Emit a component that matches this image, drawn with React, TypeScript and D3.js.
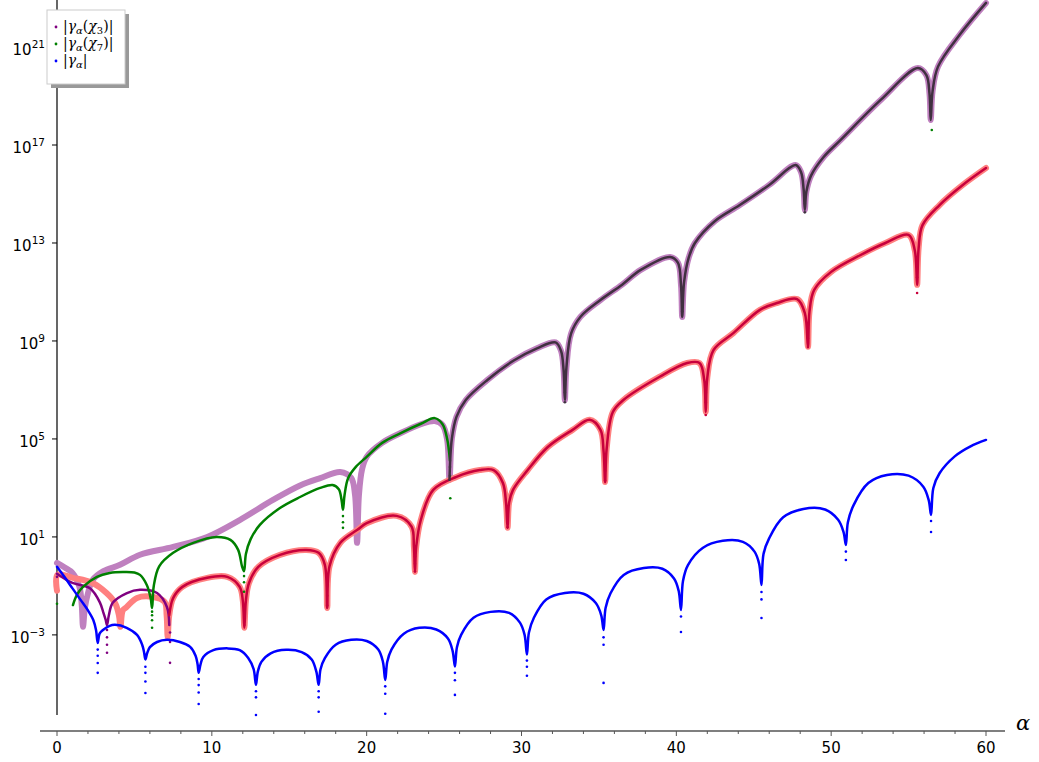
import React from 'react';
import * as d3 from 'd3';

const W = 1039;
const H = 762;

// [alpha, log10 |value|]
const plumCurve: [number, number][] = [
  [0, -0.06], [0.5, -0.25], [1.0, -0.47], [1.45, -1.04], [1.6, -1.8], [1.68, -2.67], [1.8, -1.9],
  [2.0, -1.3], [2.3, -0.76], [3.0, -0.4], [4.07, -0.14], [5.36, 0.27], [7.5, 0.59], [9.7, 1.0],
  [11.8, 1.69], [13.95, 2.51], [15.7, 3.1], [17.0, 3.4], [18.3, 3.65], [19.0, 3.41], [19.25, 2.71],
  [19.38, 0.76], [19.5, 2.7], [19.7, 3.75], [20.0, 4.27], [21.0, 4.84], [22.2, 5.24], [23.5, 5.6],
  [24.4, 5.73], [24.9, 5.57], [25.2, 4.96], [25.35, 3.33], [25.5, 5.0], [25.8, 5.9], [26.4, 6.59],
  [27.8, 7.41], [29.5, 8.2], [31.0, 8.7], [32.2, 8.94], [32.55, 8.6], [32.72, 7.8], [32.8, 6.59],
  [32.9, 7.9], [33.2, 9.3], [33.8, 9.98], [35.1, 10.67], [36.5, 11.3], [37.7, 11.9], [39.6, 12.43],
  [40.1, 12.2], [40.3, 11.3], [40.38, 9.98], [40.5, 11.4], [40.8, 12.4], [41.2, 13.0], [42.5, 13.9],
  [44.1, 14.55], [46.0, 15.37], [47.7, 16.18], [48.05, 15.9], [48.22, 15.2], [48.3, 14.35],
  [48.4, 15.1], [48.7, 15.75], [49.5, 16.5], [50.6, 17.2], [53.2, 18.84], [55.6, 20.14], [56.15, 19.85],
  [56.35, 19.1], [56.43, 18.02], [56.55, 19.2], [56.9, 20.2], [58.3, 21.5], [60, 22.8],
];

const salmonCurve: [number, number][] = [
  [0, -1.2], [0.03, -0.55], [1.03, -0.67], [2.3, -0.88], [3.2, -1.29], [3.75, -1.7], [4.0, -2.2],
  [4.1, -2.67], [4.25, -2.0], [4.5, -1.86], [5.17, -1.49], [6.2, -1.45], [6.95, -1.65], [7.08, -2.2],
  [7.15, -3.1], [7.25, -2.2], [7.5, -1.5], [8.1, -1.04], [9.7, -0.67], [11.0, -0.63], [11.8, -1.04],
  [12.0, -1.6], [12.1, -2.71], [12.2, -1.6], [12.4, -0.88], [13.0, -0.22], [14.4, 0.27], [16.1, 0.47],
  [16.9, 0.35], [17.3, -0.14], [17.45, -1.9], [17.6, -0.2], [18.3, 0.76], [19.4, 1.29], [20.0, 1.56],
  [21.94, 1.86], [22.9, 1.42], [23.05, 0.6], [23.12, -0.43], [23.2, 0.6], [23.5, 1.7], [24.3, 2.92],
  [25.8, 3.45], [27.3, 3.73], [28.2, 3.73], [28.8, 3.2], [29.0, 2.4], [29.1, 1.37], [29.2, 2.4],
  [29.45, 2.92], [30.4, 3.73], [31.7, 4.67], [33.3, 5.37], [34.4, 5.78], [35.1, 5.37], [35.3, 4.5],
  [35.4, 3.24], [35.5, 4.6], [35.9, 6.1], [36.6, 6.6], [38.9, 7.53], [40.7, 8.1], [41.5, 8.1],
  [41.8, 7.41], [41.9, 6.1], [42.0, 7.5], [42.4, 8.63], [43.7, 9.33], [45.4, 10.27], [46.5, 10.55],
  [47.8, 10.71], [48.3, 10.14], [48.5, 8.76], [48.6, 10.2], [48.9, 11.08], [50.0, 11.82],
  [51.9, 12.51], [53.5, 13.0], [55.0, 13.33], [55.4, 12.7], [55.55, 11.29], [55.65, 12.8],
  [55.9, 13.73], [57.0, 14.55], [58.5, 15.37], [60, 16.06],
];

// |gamma_alpha(chi_3)| before it joins the salmon curve
const chi3Curve: [number, number][] = [
  [0, -0.5], [1.0, -0.88], [2.13, -1.1], [2.78, -1.69], [3.0, -2.1], [3.15, -2.4], [3.23, -2.6],
  [3.35, -2.2], [3.6, -1.69], [4.52, -1.29], [5.36, -1.16], [6.46, -1.29], [7.1, -1.86], [7.25, -2.6],
];

const chi7Curve: [number, number][] = [
  [1.03, -1.78], [1.3, -1.35], [1.68, -1.04], [2.58, -0.63], [3.4, -0.47], [4.26, -0.43], [5.0, -0.45],
  [5.36, -0.55], [5.8, -0.96], [6.05, -1.5], [6.14, -1.9], [6.25, -1.0], [6.6, -0.2], [7.5, 0.35],
  [8.8, 0.76], [10.3, 1.0], [11.2, 0.88], [11.7, 0.47], [11.95, -0.2], [12.08, -0.4], [12.2, 0.3],
  [12.5, 0.9], [13.1, 1.49], [14.4, 2.18], [15.7, 2.63], [17.0, 3.0], [17.8, 3.12], [18.2, 2.95],
  [18.38, 2.5], [18.47, 2.1], [18.57, 2.7], [18.8, 3.4], [19.3, 3.86], [20.0, 4.27], [21.0, 4.84],
  [22.2, 5.24], [23.5, 5.62], [24.4, 5.85], [24.9, 5.6], [25.2, 5.0], [25.38, 4.1],
];

const gammaCurve: [number, number][] = [
  [0, -0.22], [0.5, -0.65], [1.0, -1.1], [1.5, -1.55], [2.0, -2.0], [2.35, -2.4], [2.52, -2.8], [2.63, -3.33],
  [2.75, -2.95], [2.97, -2.8], [3.4, -2.63], [3.75, -2.59], [4.5, -2.71], [5.17, -3.0], [5.5, -3.4], [5.62, -3.7], [5.71, -4.0],
  [5.82, -3.75], [6.0, -3.5], [6.46, -3.29], [7.1, -3.2], [7.94, -3.29], [8.6, -3.49], [8.95, -3.85], [9.08, -4.2], [9.15, -4.55],
  [9.27, -4.2], [9.45, -3.9], [10.1, -3.62], [11.0, -3.55], [11.8, -3.62], [12.35, -3.94], [12.7, -4.4], [12.85, -5.04],
  [12.97, -4.5], [13.2, -4.1], [13.8, -3.75], [14.8, -3.61], [15.8, -3.7], [16.45, -4.0], [16.75, -4.5], [16.9, -5.04],
  [17.02, -4.4], [17.3, -3.95], [18.0, -3.4], [19.0, -3.2], [20.0, -3.25], [20.75, -3.6], [21.05, -4.1], [21.2, -4.84],
  [21.33, -4.1], [21.6, -3.6], [22.4, -2.95], [23.4, -2.71], [24.5, -2.78], [25.25, -3.15], [25.55, -3.65], [25.7, -4.29],
  [25.83, -3.5], [26.1, -3.0], [26.9, -2.3], [28.0, -2.06], [29.2, -2.1], [29.9, -2.5], [30.2, -3.0], [30.35, -3.8],
  [30.48, -2.9], [30.8, -2.3], [31.6, -1.55], [32.8, -1.29], [34.0, -1.32], [34.8, -1.7], [35.15, -2.2], [35.3, -2.8],
  [35.43, -1.9], [35.75, -1.3], [36.6, -0.55], [37.9, -0.27], [39.1, -0.3], [39.85, -0.7], [40.15, -1.2], [40.3, -1.98],
  [40.43, -0.8], [40.75, -0.15], [41.7, 0.55], [43.0, 0.84], [44.3, 0.8], [45.05, 0.4], [45.35, -0.1], [45.5, -0.96],
  [45.63, 0.3], [46.0, 0.95], [46.9, 1.8], [48.2, 2.14], [49.6, 2.12], [50.45, 1.7], [50.8, 1.2], [50.95, 0.67],
  [51.08, 1.6], [51.45, 2.3], [52.4, 3.2], [53.6, 3.53], [55.0, 3.5], [55.95, 3.05], [56.3, 2.5], [56.45, 1.9],
  [56.6, 3.0], [57.0, 3.6], [58.0, 4.3], [59.0, 4.7], [60, 4.96],
];

// loose sample points that fall out of the curves near the zeros
const gammaDots: [number, number][] = [
  [2.63, -3.6], [2.63, -3.85], [2.63, -4.15], [2.63, -4.55], [5.71, -4.3], [5.71, -4.55], [5.71, -4.9], [5.71, -5.37],
  [9.15, -4.8], [9.15, -5.05], [9.15, -5.35], [9.15, -5.82], [12.85, -5.3], [12.85, -5.55], [12.85, -6.27],
  [16.9, -5.3], [16.9, -5.55], [16.9, -6.14], [21.2, -5.1], [21.2, -5.4], [21.2, -6.22],
  [25.7, -4.55], [25.7, -4.85], [25.7, -5.45], [30.35, -4.05], [30.35, -4.3], [30.35, -4.67], [35.3, -3.1], [35.3, -3.4], [35.3, -4.96],
  [40.3, -2.25], [40.3, -2.88], [45.5, -1.25], [45.5, -1.55], [45.5, -2.31], [50.95, 0.4], [50.95, 0.06],
  [56.45, 1.65], [56.45, 1.2],
];
const chi7Dots: [number, number][] = [
  [0, -1.73], [6.14, -2.05], [6.14, -2.2], [6.14, -2.4], [6.14, -2.71], [12.08, -0.6], [12.08, -0.85], [12.08, -1.24],
  [18.47, 1.85], [18.47, 1.6], [18.47, 1.37], [25.38, 3.85], [25.38, 3.5], [25.4, 2.58], [56.5, 17.61],
];
const chi3Dots: [number, number][] = [
  [0, -0.63], [3.23, -2.8], [3.23, -3.1], [3.23, -3.4], [3.23, -3.73], [7.3, -2.9], [7.3, -3.29], [7.3, -4.14],
];
const crimsonDots: [number, number][] = [
  [12.1, -1.9], [12.1, -2.3], [12.1, -2.6], [17.45, -1.0], [17.45, -1.4], [17.45, -1.8], [23.12, 0.2], [23.12, -0.1],
  [23.12, -0.4], [29.1, 2.2], [29.1, 1.8], [29.1, 1.4], [35.4, 4.1], [35.4, 3.7], [35.4, 3.3], [41.9, 6.9], [41.9, 6.5],
  [41.9, 5.98], [48.5, 9.5], [48.5, 9.1], [48.5, 8.75], [55.55, 12.0], [55.55, 11.6], [55.55, 10.96],
];
const darkDots: [number, number][] = [
  [32.8, 7.2], [32.8, 6.9], [32.8, 6.5], [40.38, 10.6], [40.38, 10.2], [48.3, 15.0], [48.3, 14.6], [48.3, 14.25],
  [56.43, 18.8], [56.43, 18.4],
];

const xTicks = [0, 10, 20, 30, 40, 50, 60];
const xMinorTicks = [2, 4, 6, 8, 12, 14, 16, 18, 22, 24, 26, 28, 32, 34, 36, 38, 42, 44, 46, 48, 52, 54, 56, 58];
const yTickExps = [-3, 1, 5, 9, 13, 17, 21];

const x = d3.scaleLinear().domain([0, 60]).range([57, 986]);
const y = d3.scaleLog().domain([10 ** -6.27, 10 ** 22.92]).range([715, 0]);

const line = d3.line<[number, number]>()
  .x(d => x(d[0]))
  .y(d => y(10 ** d[1]))
  .curve(d3.curveCatmullRom.alpha(0.5));

const PLUM = '#bf80bf';
const SALMON = '#ff8080';
const PURPLE = '#800080';
const GREEN = '#008000';
const BLUE = '#0000ff';
const CRIMSON = '#c8003c';
const DARK = '#403040';

function Dots({ data, color }: { data: [number, number][]; color: string }) {
  return (
    <g fill={color}>
      {data.map((d, i) => <circle key={i} cx={x(d[0])} cy={y(10 ** d[1])} r={1.3} />)}
    </g>
  );
}

function LegendLabel({ xPos, yPos, sub }: { xPos: number; yPos: number; sub: string | null }) {
  return (
    <text x={xPos} y={yPos} fontFamily="DejaVu Serif" fontSize={14} fill="#000">
      <tspan>|</tspan>
      <tspan fontStyle="italic">γ</tspan>
      <tspan fontStyle="italic" fontSize={10} dy={3}>α</tspan>
      {sub ? (
        <>
          <tspan dy={-3}>(</tspan>
          <tspan fontStyle="italic">χ</tspan>
          <tspan fontSize={10} dy={3}>{sub}</tspan>
          <tspan dy={-3}>)|</tspan>
        </>
      ) : (
        <tspan dy={-3}>|</tspan>
      )}
    </text>
  );
}

export default function App() {
  const thin = { fill: 'none', strokeWidth: 2.5, strokeLinejoin: 'round' as const, strokeLinecap: 'round' as const };
  const thick = { fill: 'none', strokeWidth: 6, strokeLinejoin: 'round' as const, strokeLinecap: 'round' as const };
  return (
    <svg width={W} height={H} viewBox={`0 0 ${W} ${H}`}
      style={{ position: 'absolute', left: 0, top: 0, background: '#fff' }}>
      {/* y axis */}
      <line x1={57} x2={57} y1={0} y2={715} stroke="#000" strokeWidth={1.2} />
      {yTickExps.map(e => (
        <g key={e}>
          <line x1={52} x2={57} y1={y(10 ** e)} y2={y(10 ** e)} stroke="#000" strokeWidth={1} />
          <text x={45} y={y(10 ** e) + 8} textAnchor="end" fontFamily="DejaVu Sans" fontSize={15} fill="#000">
            <tspan>10</tspan>
            <tspan fontSize={10.5} dy={-7}>{e < 0 ? `−${-e}` : `${e}`}</tspan>
          </text>
        </g>
      ))}
      {/* x axis */}
      <line x1={40} x2={1005} y1={731} y2={731} stroke="#555" strokeWidth={1.6} />
      {xTicks.map(t => (
        <g key={t}>
          <line x1={x(t)} x2={x(t)} y1={731} y2={736} stroke="#555" strokeWidth={1} />
          <text x={x(t)} y={753} textAnchor="middle" fontFamily="DejaVu Sans" fontSize={15} fill="#000">{t}</text>
        </g>
      ))}
      {xMinorTicks.map(t => (
        <line key={t} x1={x(t)} x2={x(t)} y1={731} y2={734} stroke="#555" strokeWidth={1} />
      ))}
      <text x={1016} y={730} fontFamily="DejaVu Serif" fontStyle="italic" fontSize={21} fill="#000">α</text>

      {/* thick approximations */}
      <path d={line(plumCurve) ?? ''} stroke={PLUM} {...thick} />
      <path d={line(salmonCurve) ?? ''} stroke={SALMON} {...thick} />

      {/* sampled values */}
      <path d={line(chi3Curve) ?? ''} stroke={PURPLE} {...thin} />
      <Dots data={chi3Dots} color={PURPLE} />
      <path d={line(salmonCurve.filter(d => d[0] >= 7.25)) ?? ''} stroke={CRIMSON} {...thin} />
      <Dots data={crimsonDots} color={CRIMSON} />
      <path d={line(chi7Curve) ?? ''} stroke={GREEN} {...thin} />
      <Dots data={chi7Dots} color={GREEN} />
      <path d={line(plumCurve.filter(d => d[0] >= 25.35)) ?? ''} stroke={DARK} {...thin} />
      <Dots data={darkDots} color={DARK} />
      <path d={line(gammaCurve) ?? ''} stroke={BLUE} {...thin} />
      <Dots data={gammaDots} color={BLUE} />

      {/* legend */}
      <rect x={51} y={14} width={78} height={74} fill="#999" />
      <rect x={47} y={10} width={78} height={74} fill="#fff" stroke="#ccc" strokeWidth={1} />
      <circle cx={56} cy={27} r={1.4} fill={PURPLE} />
      <LegendLabel xPos={63} yPos={31} sub="3" />
      <circle cx={56} cy={44} r={1.4} fill={GREEN} />
      <LegendLabel xPos={63} yPos={48} sub="7" />
      <circle cx={56} cy={61} r={1.4} fill={BLUE} />
      <LegendLabel xPos={63} yPos={65} sub={null} />
    </svg>
  );
}
